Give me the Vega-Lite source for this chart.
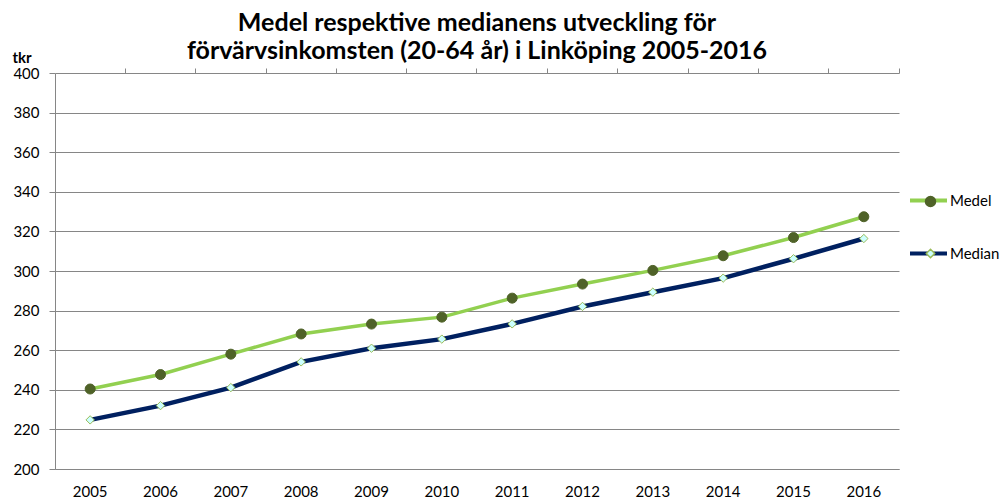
{
  "$schema": "https://vega.github.io/schema/vega-lite/v6.json",
  "autosize": {"type": "none"},
  "width": 844,
  "height": 396,
  "padding": {"left": 55, "top": 73, "right": 102, "bottom": 30},
  "background": "white",
  "config": {
    "view": {"stroke": null},
    "font": "Lato",
    "axis": {"labelFont": "Lato", "labelFontSize": 15, "labelColor": "#000000", "domainColor": "#868686", "tickColor": "#868686", "gridColor": "#868686"},
    "legend": {"labelFont": "Lato", "labelFontSize": 15, "labelColor": "#000000"}
  },
  "title": {
    "text": ["Medel respektive medianens utveckling för", "förvärvsinkomsten (20-64 år) i Linköping 2005-2016"],
    "font": "Lato",
    "fontSize": 25,
    "fontWeight": "bold",
    "color": "#000000",
    "anchor": "middle",
    "lineHeight": 28,
    "offset": -14
  },
  "data": {
    "values": [
      {"year": "2005", "series": "Medel", "value": 240.4},
      {"year": "2006", "series": "Medel", "value": 247.7},
      {"year": "2007", "series": "Medel", "value": 258.0},
      {"year": "2008", "series": "Medel", "value": 268.2},
      {"year": "2009", "series": "Medel", "value": 273.2},
      {"year": "2010", "series": "Medel", "value": 276.7},
      {"year": "2011", "series": "Medel", "value": 286.3},
      {"year": "2012", "series": "Medel", "value": 293.4},
      {"year": "2013", "series": "Medel", "value": 300.3},
      {"year": "2014", "series": "Medel", "value": 307.7},
      {"year": "2015", "series": "Medel", "value": 316.9},
      {"year": "2016", "series": "Medel", "value": 327.4},
      {"year": "2005", "series": "Median", "value": 224.8},
      {"year": "2006", "series": "Median", "value": 232.0},
      {"year": "2007", "series": "Median", "value": 241.1},
      {"year": "2008", "series": "Median", "value": 254.1},
      {"year": "2009", "series": "Median", "value": 261.0},
      {"year": "2010", "series": "Median", "value": 265.6},
      {"year": "2011", "series": "Median", "value": 273.3},
      {"year": "2012", "series": "Median", "value": 282.1},
      {"year": "2013", "series": "Median", "value": 289.3},
      {"year": "2014", "series": "Median", "value": 296.4},
      {"year": "2015", "series": "Median", "value": 306.2},
      {"year": "2016", "series": "Median", "value": 316.4}
    ]
  },
  "encoding": {
    "y": {
      "field": "value",
      "type": "quantitative",
      "scale": {"domain": [200, 400], "nice": false, "zero": false},
      "axis": {
        "values": [200, 220, 240, 260, 280, 300, 320, 340, 360, 380, 400],
        "grid": true,
        "gridWidth": 1,
        "tickSize": 6,
        "labelPadding": 10,
        "title": "tkr",
        "titleAngle": 0,
        "titleFont": "Lato",
        "titleFontSize": 15,
        "titleFontWeight": "bold",
        "titleColor": "#000000",
        "titleAlign": "left",
        "titleBaseline": "middle",
        "titleX": -43,
        "titleY": -16
      }
    }
  },
  "layer": [
    {
      "transform": [{"filter": "datum.series === 'Medel'"}, {"calculate": "datum.series", "as": "serie"}],
      "mark": {"type": "line", "strokeWidth": 3.5},
      "encoding": {
        "x": {
          "field": "year",
          "type": "ordinal",
          "scale": {"type": "band", "paddingInner": 0, "paddingOuter": 0},
          "axis": {"title": null, "ticks": false, "labelAngle": 0, "labelPadding": 15, "grid": false, "domainColor": "#868686"}
        },
        "color": {
          "field": "serie",
          "type": "nominal",
          "scale": {"domain": ["Medel", "Median"], "range": ["#92D050", "#002060"]},
          "legend": {
            "orient": "none",
            "legendX": 853,
            "legendY": 107,
            "title": null,
            "padding": 0,
            "symbolType": "stroke",
            "symbolSize": 1369,
            "symbolStrokeWidth": 4,
            "rowPadding": 24,
            "labelOffset": 1
          }
        }
      }
    },
    {
      "transform": [{"filter": "datum.series === 'Median'"}, {"calculate": "datum.series", "as": "serie"}],
      "mark": {"type": "line", "strokeWidth": 4.5},
      "encoding": {
        "x": {
          "field": "year",
          "type": "ordinal",
          "axis": null
        },
        "color": {
          "field": "serie",
          "type": "nominal",
          "scale": {"domain": ["Medel", "Median"], "range": ["#92D050", "#002060"]},
          "legend": {
            "orient": "none",
            "legendX": 853,
            "legendY": 107,
            "title": null,
            "padding": 0,
            "symbolType": "stroke",
            "symbolSize": 1369,
            "symbolStrokeWidth": 4,
            "rowPadding": 24,
            "labelOffset": 1
          }
        }
      }
    },
    {
      "mark": {"type": "point", "filled": true, "strokeWidth": 1, "opacity": 1},
      "encoding": {
        "x": {
          "field": "year",
          "type": "ordinal",
          "axis": {"title": null, "labels": false, "ticks": true, "tickSize": 5, "bandPosition": 1, "domain": false, "grid": false}
        },
        "shape": {
          "field": "series",
          "type": "nominal",
          "scale": {"range": ["circle", "diamond"]},
          "legend": {"orient": "none", "legendX": 868, "legendY": 121, "title": null, "padding": 0, "rowPadding": 36, "labelExpr": "''"}
        },
        "size": {
          "field": "series",
          "type": "nominal",
          "scale": {"range": [100, 70]},
          "legend": {"orient": "none", "legendX": 868, "legendY": 121, "title": null, "padding": 0, "rowPadding": 36, "labelExpr": "''"}
        },
        "fill": {
          "field": "series",
          "type": "nominal",
          "scale": {"range": ["#4F6228", "#CCFFFF"]},
          "legend": {"orient": "none", "legendX": 868, "legendY": 121, "title": null, "padding": 0, "rowPadding": 36, "labelExpr": "''"}
        },
        "stroke": {
          "field": "series",
          "type": "nominal",
          "scale": {"range": ["#4F6228", "#9BBB59"]},
          "legend": {"orient": "none", "legendX": 868, "legendY": 121, "title": null, "padding": 0, "rowPadding": 36, "labelExpr": "''"}
        }
      }
    }
  ],
  "resolve": {"axis": {"x": "independent"}}
}
